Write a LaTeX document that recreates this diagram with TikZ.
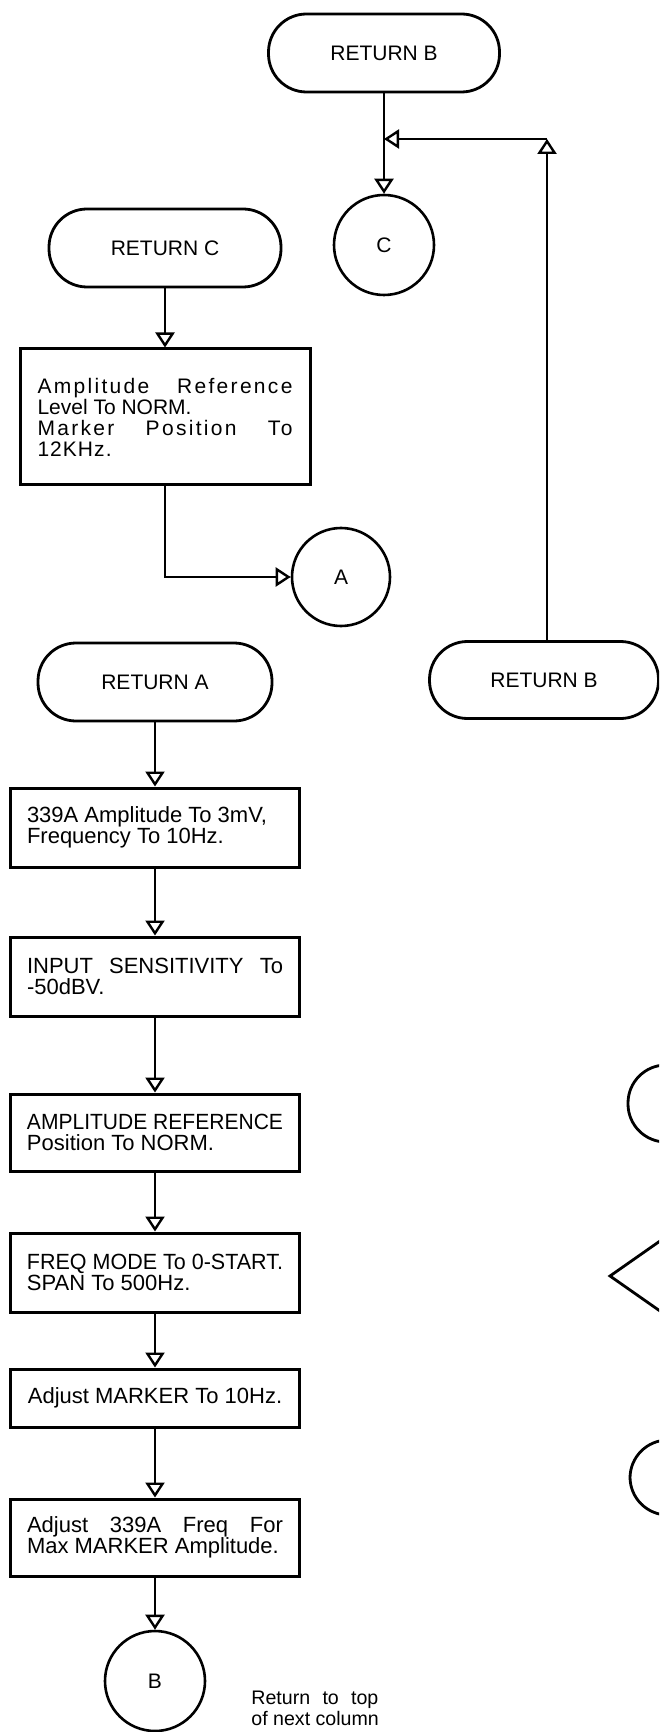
\documentclass[tikz,border=0pt]{standalone}
\usepackage{fontspec}
\setmainfont{Liberation Sans}
\usetikzlibrary{arrows.meta}
\newcommand\jln[2][128pt]{\makebox[#1][s]{#2}}
\newcommand\lln[2][128pt]{\makebox[#1][l]{#2}}
\newcommand\fitln[2][128pt]{\resizebox{#1}{\height}{#2}}
\begin{document}
\begin{tikzpicture}[x=0.5pt,y=-0.5pt,
  term/.style={draw, line width=1.4pt, rounded corners=19pt, minimum width=116pt, minimum height=39pt, inner sep=0pt, font=\fontsize{10.5}{12}\selectfont},
  proc/.style={draw, line width=1.5pt, minimum width=144.5pt, inner sep=0pt, align=left, font=\fontsize{11}{10.5}\selectfont},
  conn/.style={draw, circle, line width=1.3pt, minimum size=50pt, inner sep=0pt, font=\fontsize{10.5}{12}\selectfont},
  arr/.style={line width=1.2pt, -{Triangle[open, length=7.5pt, width=9.5pt, line width=1.2pt]}},
  frag/.style={line width=1.4pt}]
\useasboundingbox (0,0) rectangle (659,1732);
\clip (0,0) rectangle (659,1732);
\fill[white] (0,0) rectangle (659,1732);

% top right column part
\node[term, minimum width=115.5pt] (retBt) at (384,53) {RETURN B};
\node[conn] (circC) at (384,245) {C};
\coordinate (junc) at (384,139);
\coordinate (corner) at (547,139);
\node[term, minimum width=114.5pt, minimum height=38.5pt] (retBr) at (544,680) {RETURN B};

% RETURN C part
\node[term] (retC) at (165,248) {RETURN C};
\node[proc, minimum width=145pt, minimum height=68pt, font=\fontsize{10.5}{10.5}\selectfont] (boxC) at (165,417)
  {{\addfontfeatures{LetterSpace=11}\jln[127.5pt]{Amplitude Reference}}\\
   \lln[127.5pt]{Level To NORM.}\\
   {\addfontfeatures{LetterSpace=11}\jln[127.5pt]{Marker Position To}}\\
   {\addfontfeatures{LetterSpace=5}\lln[127.5pt]{12KHz.}}};
\node[conn, minimum size=49pt] (circA) at (341,577) {A};

% RETURN A column
\node[term, minimum width=117pt] (retA) at (155,682) {RETURN A};
\node[proc, minimum height=39.5pt] (b1) at (155,827.5)
  {\lln{339A Amplitude To 3mV,}\\\lln{Frequency To 10Hz.}};
\node[proc, minimum height=39.5pt] (b2) at (155,976.5)
  {\jln{INPUT SENSITIVITY To}\\\lln{-50dBV.}};
\node[proc, minimum height=38.5pt] (b3) at (155,1132.5)
  {\fitln{AMPLITUDE REFERENCE}\\\lln{Position To NORM.}};
\node[proc, minimum height=39.5pt] (b4) at (155,1272.5)
  {\fitln{FREQ MODE To 0-START.}\\\lln{SPAN To 500Hz.}};
\node[proc, minimum height=29pt, align=center] (b5) at (155,1398)
  {Adjust MARKER To 10Hz.};
\node[proc, minimum height=38.5pt] (b6) at (155,1537.5)
  {\jln{Adjust 339A Freq For}\\\lln{Max MARKER Amplitude.}};
\node[conn] (circB) at (155,1681) {B};
\node[font=\fontsize{9.8}{10.5}\selectfont, align=left, anchor=west, inner sep=0pt] (note) at (251,1708)
  {\jln[63.5pt]{Return to top}\\\lln[63.5pt]{of next column}};

% fragments of the next column
\node[term, minimum width=100pt, minimum height=38.5pt] (fragA) at (728,1103.5) {};
\coordinate (dtop) at (690,1220);
\coordinate (dtip) at (610,1276);
\coordinate (dbot) at (690,1332);
\draw[frag] (dtop) -- (dtip) -- (dbot);
\node[term, minimum width=100pt, minimum height=37.5pt] (fragC) at (730,1477.5) {};

% connectors
\draw[arr] (retBt) -- (circC);
\draw[arr] (corner |- retBr.north) -- (corner);
\draw[arr] (corner) -- (junc);
\draw[arr] (retC) -- (boxC);
\draw[arr] (boxC.south) |- (circA.west);
\draw[arr] (retA) -- (b1);
\draw[arr] (b1) -- (b2);
\draw[arr] (b2) -- (b3);
\draw[arr] (b3) -- (b4);
\draw[arr] (b4) -- (b5);
\draw[arr] (b5) -- (b6);
\draw[arr] (b6) -- (circB);
\end{tikzpicture}
\end{document}
